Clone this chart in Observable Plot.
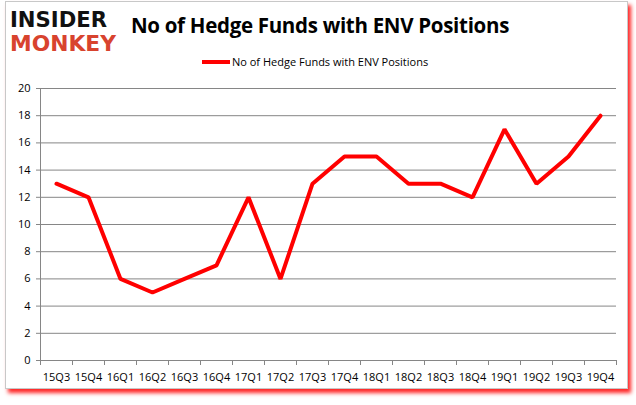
<!DOCTYPE html>
<html><head><meta charset="utf-8">
<script src="https://cdn.jsdelivr.net/npm/d3@7"></script>
<script src="https://cdn.jsdelivr.net/npm/@observablehq/plot@0.6"></script>
<style>
html,body{margin:0;padding:0;background:#fff;}
#wrap{position:relative;width:636px;height:405px;overflow:hidden;font-family:"Open Sans",sans-serif;}
#frame{position:absolute;left:5px;top:1px;width:621px;height:386px;border:1px solid #c8c8c8;box-shadow:3px 4px 4px rgba(255,0,0,0.85);background:#fff;}
#logo{position:absolute;left:9px;top:4px;}
#title{position:absolute;left:0;top:11px;width:636px;text-align:center;padding-left:2px;font-size:20.5px;font-weight:700;color:#000;letter-spacing:-0.3px;}
#legend{position:absolute;top:54px;left:202px;font-size:11px;color:#000;display:flex;align-items:center;}
#legend .sw{display:inline-block;width:28px;height:4px;background:#ff0000;margin-right:2px;}
#chart{position:absolute;left:0;top:75px;}
</style></head>
<body><div id="wrap">
<div id="frame"></div>
<svg id="logo" width="112" height="54">
  <text x="1" y="23" font-family="DejaVu Sans" font-weight="bold" font-size="21" fill="#111" textLength="97" lengthAdjust="spacingAndGlyphs">INSIDER</text>
  <text x="1" y="47" font-family="DejaVu Sans" font-weight="bold" font-size="21" fill="#d8432e" textLength="106" lengthAdjust="spacingAndGlyphs">MONKEY</text>
</svg>
<div id="title">No of Hedge Funds with ENV Positions</div>
<div id="legend"><span class="sw"></span><span>No of Hedge Funds with ENV Positions</span></div>
<div id="chart"></div>
</div>
<script>
const quarters = ["15Q3","15Q4","16Q1","16Q2","16Q3","16Q4","17Q1","17Q2","17Q3","17Q4","18Q1","18Q2","18Q3","18Q4","19Q1","19Q2","19Q3","19Q4"];
const funds = [13,12,6,5,6,7,12,6,13,15,15,13,13,12,17,13,15,18];
const yTicks = [0,2,4,6,8,10,12,14,16,18,20];

const data = quarters.map((q,i)=>({q, i, v: funds[i]}));
const centers = quarters.map((q,i)=>i+0.5);
const bounds = d3.range(quarters.length+1);

const chart = Plot.plot({
  width: 636,
  height: 315,
  marginLeft: 40,
  marginRight: 20,
  marginTop: 13,
  marginBottom: 30,
  style: {fontFamily: "Open Sans, sans-serif", fontSize: "11px", color: "#000", background: "transparent"},
  x: {type: "linear", domain: [0, quarters.length], axis: null},
  y: {domain: [0, 20], axis: null},
  marks: [
    Plot.gridY(yTicks, {stroke: "#868686", strokeOpacity: 1, strokeWidth: 1}),
    Plot.ruleX([0], {stroke: "#868686", strokeWidth: 1}),
    Plot.axisY(yTicks, {tickSize: 4, tickPadding: 6, stroke: "#868686", fill: "#000", fontSize: 11, label: null}),
    Plot.axisX(bounds, {tickSize: 5, tickFormat: () => "", stroke: "#868686", label: null}),
    Plot.axisX(centers, {tickSize: 0, tickPadding: 13, tickFormat: d => quarters[Math.round(d - 0.5)], fill: "#000", fontSize: 11, label: null}),
    Plot.line(data, {x: d => d.i + 0.5, y: "v", stroke: "#ff0000", strokeWidth: 4, strokeLinejoin: "miter"})
  ]
});
document.getElementById("chart").appendChild(chart);
</script>
</body></html>
